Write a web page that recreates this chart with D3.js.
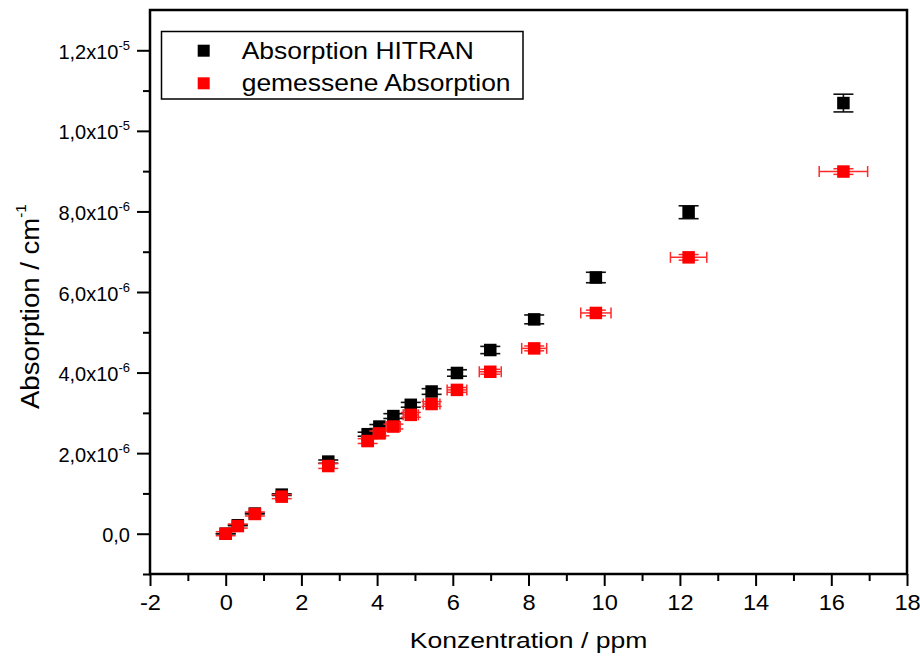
<!DOCTYPE html>
<html>
<head>
<meta charset="utf-8">
<script src="https://cdn.jsdelivr.net/npm/d3@7"></script>
<style>
  html, body { margin: 0; padding: 0; background: #fff; }
  svg { display: block; font-family: "Liberation Sans", Arial, Helvetica, sans-serif; }
</style>
</head>
<body>
<svg id="chart" width="920" height="657"></svg>
<script>
// Concentration in ppm and absorption coefficients in cm^-1
const concentration = [0.00, 0.32, 0.77, 1.48, 2.71, 3.75, 4.06, 4.43, 4.89, 5.44, 6.11, 6.99, 8.15, 9.78, 12.23, 16.32];
const concentrationError = [0.00, 0.01, 0.03, 0.06, 0.11, 0.15, 0.16, 0.18, 0.20, 0.22, 0.26, 0.29, 0.33, 0.40, 0.48, 0.64];

const absorptionHitran = [0.00e-6, 0.21e-6, 0.50e-6, 0.97e-6, 1.79e-6, 2.47e-6, 2.66e-6, 2.92e-6, 3.20e-6, 3.53e-6, 3.99e-6, 4.56e-6, 5.32e-6, 6.36e-6, 7.98e-6, 10.69e-6];
const hitranError = [0.00e-6, 0.01e-6, 0.01e-6, 0.02e-6, 0.04e-6, 0.05e-6, 0.05e-6, 0.06e-6, 0.06e-6, 0.07e-6, 0.08e-6, 0.09e-6, 0.11e-6, 0.13e-6, 0.16e-6, 0.22e-6];

const absorptionMeasured = [0.00e-6, 0.19e-6, 0.49e-6, 0.92e-6, 1.68e-6, 2.30e-6, 2.49e-6, 2.66e-6, 2.95e-6, 3.22e-6, 3.57e-6, 4.02e-6, 4.60e-6, 5.48e-6, 6.86e-6, 8.99e-6];
const measuredError = [0.05e-6, 0.05e-6, 0.05e-6, 0.05e-6, 0.06e-6, 0.06e-6, 0.06e-6, 0.06e-6, 0.06e-6, 0.06e-6, 0.06e-6, 0.06e-6, 0.06e-6, 0.07e-6, 0.07e-6, 0.07e-6];

const seriesNames = ["Absorption HITRAN", "gemessene Absorption"];
const seriesColors = ["#000000", "#ff0000"];

const xMajorTicks = [-2, 0, 2, 4, 6, 8, 10, 12, 14, 16, 18];
const xMinorTicks = [-1, 1, 3, 5, 7, 9, 11, 13, 15, 17];
const xTickLabels = ["-2", "0", "2", "4", "6", "8", "10", "12", "14", "16", "18"];
const yMajorTicks = [0, 2e-6, 4e-6, 6e-6, 8e-6, 1.0e-5, 1.2e-5];
const yMinorTicks = [-1e-6, 1e-6, 3e-6, 5e-6, 7e-6, 9e-6, 1.1e-5];
// tick label: mantissa and power of ten
const yTickLabels = [["0,0", ""], ["2,0x10", "-6"], ["4,0x10", "-6"], ["6,0x10", "-6"], ["8,0x10", "-6"], ["1,0x10", "-5"], ["1,2x10", "-5"]];

const xTitle = "Konzentration / ppm";
const yTitle = ["Absorption / cm", "-1"];

const svg = d3.select("#chart");
const plotLeft = 150, plotRight = 907, plotTop = 10, plotBottom = 574;

const x = d3.scaleLinear().domain([-2, 18]).range([plotLeft, plotRight]);
const y = d3.scaleLinear().domain([-1e-6, 1.3e-5]).range([plotBottom, plotTop]);

// --- axes ---
const xAxisMajor = d3.axisBottom(x).tickValues(xMajorTicks).tickSize(12).tickSizeOuter(0).tickPadding(8)
  .tickFormat((d, i) => xTickLabels[i]);
const xAxisMinor = d3.axisBottom(x).tickValues(xMinorTicks).tickSize(7).tickSizeOuter(0).tickFormat("");
const yAxisMajor = d3.axisLeft(y).tickValues(yMajorTicks).tickSize(13).tickSizeOuter(0).tickPadding(7)
  .tickFormat((d, i) => yTickLabels[i][0]);
const yAxisMinor = d3.axisLeft(y).tickValues(yMinorTicks).tickSize(7).tickSizeOuter(0).tickFormat("");

function styleAxis(g) {
  g.attr("font-family", null);
  g.select(".domain").remove();
  g.selectAll(".tick line").attr("stroke", "#000").attr("stroke-width", 2);
}

const gx = svg.append("g").attr("transform", `translate(0,${plotBottom})`);
gx.append("g").call(xAxisMinor).call(styleAxis);
const gxMaj = gx.append("g").call(xAxisMajor).call(styleAxis);
gxMaj.selectAll(".tick text")
  .attr("fill", "#000")
  .attr("font-size", 22.5)
  .attr("transform", "scale(1.05,1)");

const gy = svg.append("g").attr("transform", `translate(${plotLeft},0)`);
gy.append("g").call(yAxisMinor).call(styleAxis);
const gyMaj = gy.append("g").call(yAxisMajor).call(styleAxis);
gyMaj.selectAll(".tick text")
  .attr("fill", "#000")
  .attr("font-size", 20)
  .attr("dy", "0.40em")
  .each(function (d, i) {
    const t = d3.select(this);
    const [mant, pow] = yTickLabels[i];
    t.text(null);
    t.append("tspan").text(mant);
    if (pow) {
      t.append("tspan").attr("font-size", 13).attr("dy", -9).text(pow);
    }
  });

// --- frame ---
svg.append("rect")
  .attr("x", plotLeft).attr("y", plotTop)
  .attr("width", plotRight - plotLeft).attr("height", plotBottom - plotTop)
  .attr("fill", "none").attr("stroke", "#000").attr("stroke-width", 2.5);

// --- axis titles ---
svg.append("text")
  .attr("transform", `translate(${(plotLeft + plotRight) / 2},648) scale(1.18,1)`)
  .attr("text-anchor", "middle")
  .attr("font-size", 22.5)
  .attr("fill", "#000")
  .text(xTitle);

const yt = svg.append("text")
  .attr("transform", "translate(38.5,409) rotate(-90) scale(1.08,1)")
  .attr("text-anchor", "start")
  .attr("font-size", 25.5)
  .attr("fill", "#000");
yt.append("tspan").text(yTitle[0]);
yt.append("tspan").attr("font-size", 14).attr("dy", -13).text(yTitle[1]);

// --- data ---
const pts = concentration.map((c, i) => ({
  c, ce: concentrationError[i],
  h: absorptionHitran[i], he: hitranError[i],
  m: absorptionMeasured[i], me: measuredError[i]
}));

const plot = svg.append("g");
const markerSize = 12.5;
const capW = 10;

// HITRAN error bars (vertical)
const gh = plot.append("g").attr("stroke", "#111").attr("stroke-width", 1.6).attr("fill", "none");
pts.forEach(p => {
  const cx = x(p.c), y0 = y(p.h - p.he), y1 = y(p.h + p.he);
  gh.append("line").attr("x1", cx).attr("x2", cx).attr("y1", y0).attr("y2", y1);
  gh.append("line").attr("x1", cx - capW).attr("x2", cx + capW).attr("y1", y0).attr("y2", y0);
  gh.append("line").attr("x1", cx - capW).attr("x2", cx + capW).attr("y1", y1).attr("y2", y1);
});
plot.append("g").selectAll("rect").data(pts).join("rect")
  .attr("x", p => x(p.c) - markerSize / 2)
  .attr("y", p => y(p.h) - markerSize / 2)
  .attr("width", markerSize).attr("height", markerSize)
  .attr("fill", seriesColors[0]);

// measured error bars (vertical and horizontal)
const gm = plot.append("g").attr("stroke", "#ff2a2a").attr("stroke-width", 1.5).attr("fill", "none");
pts.forEach(p => {
  const cx = x(p.c), cy = y(p.m);
  const y0 = y(p.m - p.me), y1 = y(p.m + p.me);
  gm.append("line").attr("x1", cx).attr("x2", cx).attr("y1", y0).attr("y2", y1);
  gm.append("line").attr("x1", cx - capW).attr("x2", cx + capW).attr("y1", y0).attr("y2", y0);
  gm.append("line").attr("x1", cx - capW).attr("x2", cx + capW).attr("y1", y1).attr("y2", y1);
  const x0 = x(p.c - p.ce), x1 = x(p.c + p.ce);
  gm.append("line").attr("x1", x0).attr("x2", x1).attr("y1", cy).attr("y2", cy);
  gm.append("line").attr("x1", x0).attr("x2", x0).attr("y1", cy - 5.5).attr("y2", cy + 5.5);
  gm.append("line").attr("x1", x1).attr("x2", x1).attr("y1", cy - 5.5).attr("y2", cy + 5.5);
});
plot.append("g").selectAll("rect").data(pts).join("rect")
  .attr("x", p => x(p.c) - markerSize / 2)
  .attr("y", p => y(p.m) - markerSize / 2)
  .attr("width", markerSize).attr("height", markerSize)
  .attr("fill", seriesColors[1]);

// --- legend ---
const lg = svg.append("g");
lg.append("rect")
  .attr("x", 161.5).attr("y", 31.5).attr("width", 361.5).attr("height", 67.5)
  .attr("fill", "#fff").attr("stroke", "#000").attr("stroke-width", 1.5);
seriesNames.forEach((name, i) => {
  const cy = 50.7 + i * 32.6;
  lg.append("rect")
    .attr("x", 203.7 - 6).attr("y", cy - 6).attr("width", 12).attr("height", 12)
    .attr("fill", seriesColors[i]);
  lg.append("text")
    .attr("transform", `translate(241.7,${cy + 7.8}) scale(1.15,1)`)
    .attr("font-size", 23)
    .attr("fill", "#000")
    .text(name);
});
</script>
</body>
</html>
